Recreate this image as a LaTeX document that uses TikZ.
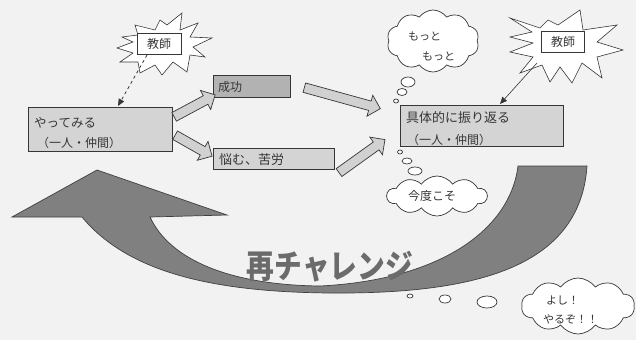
\documentclass[tikz,border=0pt]{standalone}
\usepackage{fontspec}
\setmainfont{Noto Sans CJK JP}
\usetikzlibrary{shapes.symbols,shapes.arrows,calc,arrows.meta}
\definecolor{ink}{HTML}{363636}
\tikzset{
  txt/.style={text=ink, inner sep=0pt, font=\fontsize{12}{12}\selectfont},
  boxst/.style={draw=ink, line width=0.7pt, fill=black!17, inner sep=0pt},
  tbox/.style={draw=ink, line width=0.7pt, fill=white, minimum width=44pt, minimum height=21pt, inner sep=0pt, text=ink, font=\fontsize{12}{12}\selectfont},
  burst/.style={draw=ink, line width=0.6pt, fill=white, line join=miter},
  cloudst/.style={cloud, cloud puffs=10, cloud puff arc=110, draw=ink, line width=0.7pt, fill=white, inner sep=0pt},
  bubble/.style={draw=ink, line width=0.7pt, fill=white},
  fatarr/.style={single arrow, draw=ink, line width=0.7pt, fill=black!18, inner xsep=0pt, inner ysep=4.5pt, single arrow head extend=6pt, single arrow tip angle=90, single arrow head indent=0pt},
  bigarrow/.style={fill=black!50, draw=black!75, line width=0.7pt},
}
\newcommand\blockarrow[2]{\path let \p1=($(#2)-(#1)$), \n1={atan2(\y1,\x1)}, \n2={veclen(\x1,\y1)} in node[fatarr, rotate=\n1, minimum height=\n2] at ($(#1)!0.5!(#2)$) {};}
\begin{document}
\begin{tikzpicture}[x=1pt,y=-1pt]
\useasboundingbox (0,0) rectangle (636,340);
\fill[black!5] (0,0) rectangle (636,340);

% big curved arrow (re-challenge)
\draw[bigarrow] (97,170) -- (12,217) -- (82,217)
  .. controls (130,275) and (220,292) .. (330,293)
  .. controls (470,294) and (580,270) .. (587,166)
  -- (518,166)
  .. controls (510,230) and (440,280) .. (320,286)
  .. controls (230,285) and (170,260) .. (150,217)
  -- (227,215) -- cycle;
\node[text=black!58, inner sep=0pt, font=\fontsize{33}{33}\selectfont\bfseries] (retry) at (330,267) {\scalebox{0.84}[1]{再チャレンジ}};

% starburst 1
\begin{scope}[shift={(159,44)}]
\draw[burst] (-24,-19) -- (-4,-14) -- (1,-24) -- (8,-19) -- (23,-31) -- (21,-14) -- (39,-21) -- (31,-7) -- (53,-6) -- (34,3) -- (46,13) -- (31,11) -- (28,28) -- (14,18) -- (3,31) -- (-4,21) -- (-19,29) -- (-21,18) -- (-39,18) -- (-26,9) -- (-42,4) -- (-26,-2) -- (-37,-7) -- (-21,-9) -- cycle;
\end{scope}
\node[tbox] (t1) at (159,44) {教師};

% starburst 2
\begin{scope}[shift={(563,42)}]
\draw[burst] (-53,-24) -- (-23,-14) -- (-15,-22) -- (-5,-17) -- (17,-32) -- (20,-12) -- (54,-17) -- (34,0) -- (60,8) -- (34,15) -- (39,36) -- (19,21) -- (9,41) -- (-3,25) -- (-13,40) -- (-21,23) -- (-43,31) -- (-30,15) -- (-53,10) -- (-30,1) -- (-53,-5) -- (-31,-10) -- cycle;
\end{scope}
\node[tbox, minimum width=43pt] (t2) at (563,42) {教師};

% boxes
\node[boxst, minimum width=144pt, minimum height=44pt] (try) at (100,129) {};
\node[txt, anchor=west, font=\fontsize{12.5}{12.5}\selectfont] (try1) at (34,123) {やってみる};
\node[txt, anchor=west] (try2) at (37,143) {（一人・仲間）};

\node[boxst, fill=black!30, minimum width=77pt, minimum height=22pt] (succ) at (251.5,86) {};
\node[txt, anchor=west] (succt) at (218,87) {成功};

\node[boxst, minimum width=121pt, minimum height=21pt] (worry) at (273.5,158.5) {};
\node[txt, anchor=west, font=\fontsize{13}{13}\selectfont] (worryt) at (219,160) {悩む、苦労};

\node[boxst, minimum width=163pt, minimum height=41pt] (refl) at (481.5,125.5) {};
\node[txt, anchor=west, font=\fontsize{13}{13}\selectfont] (refl1) at (406,118) {具体的に振り返る};
\node[txt, anchor=west] (refl2) at (407,140) {（一人・仲間）};

% teacher connectors
\coordinate (b1) at (147,55);
\coordinate (b2) at (537,63);
\coordinate (tryin) at (118,106);
\coordinate (reflin) at (500,104);
\draw[ink, line width=0.8pt, dashed, -{Triangle[length=7pt,width=6pt]}] (b1) -- (tryin);
\draw[ink, line width=0.6pt, -{Triangle[length=7pt,width=6pt]}] (b2) -- (reflin);

% block arrows
\coordinate (a1s) at (172,118); \coordinate (a1e) at (213,96);
\coordinate (a2s) at (173,134); \coordinate (a2e) at (210,155);
\coordinate (a3s) at (302,87);  \coordinate (a3e) at (378,108);
\coordinate (a4s) at (337,174); \coordinate (a4e) at (383,141);
\blockarrow{a1s}{a1e}
\blockarrow{a2s}{a2e}
\blockarrow{a3s}{a3e}
\blockarrow{a4s}{a4e}

% cloud: motto motto
\node[cloudst, minimum width=92pt, minimum height=62pt] (c1) at (433,41) {};
\node[txt, anchor=west, font=\fontsize{11}{11}\selectfont] (c1a) at (408,36) {もっと};
\node[txt, anchor=west, font=\fontsize{11}{11}\selectfont] (c1b) at (422,56) {もっと};
\draw[bubble] (408,82) ellipse [x radius=7pt, y radius=5pt];
\draw[bubble] (402,92) ellipse [x radius=5pt, y radius=3.5pt];
\draw[bubble] (396,101) ellipse [x radius=2.5pt, y radius=2pt];

% cloud: kondo koso
\draw[bubble] (400,152) ellipse [x radius=2.5pt, y radius=2pt];
\draw[bubble] (407,161) ellipse [x radius=5pt, y radius=3pt];
\draw[bubble] (415,171) ellipse [x radius=7pt, y radius=4pt];
\node[cloudst, minimum width=100pt, minimum height=40pt] (c2) at (437,196) {};
\node[txt, anchor=west] (c2t) at (408,196) {今度こそ};

% cloud: yoshi yaruzo
\draw[bubble] (410,296) ellipse [x radius=3pt, y radius=2pt];
\draw[bubble] (445,299) ellipse [x radius=6pt, y radius=4pt];
\draw[bubble] (487,302) ellipse [x radius=10pt, y radius=6pt];
\node[cloudst, minimum width=113pt, minimum height=56pt] (c3) at (578,306) {};
\node[txt, anchor=west, font=\fontsize{11}{11}\selectfont] (c3a) at (546,300) {よし！};
\node[txt, anchor=west, font=\fontsize{11}{11}\selectfont] (c3b) at (543,319) {やるぞ！！};
\end{tikzpicture}
\end{document}
